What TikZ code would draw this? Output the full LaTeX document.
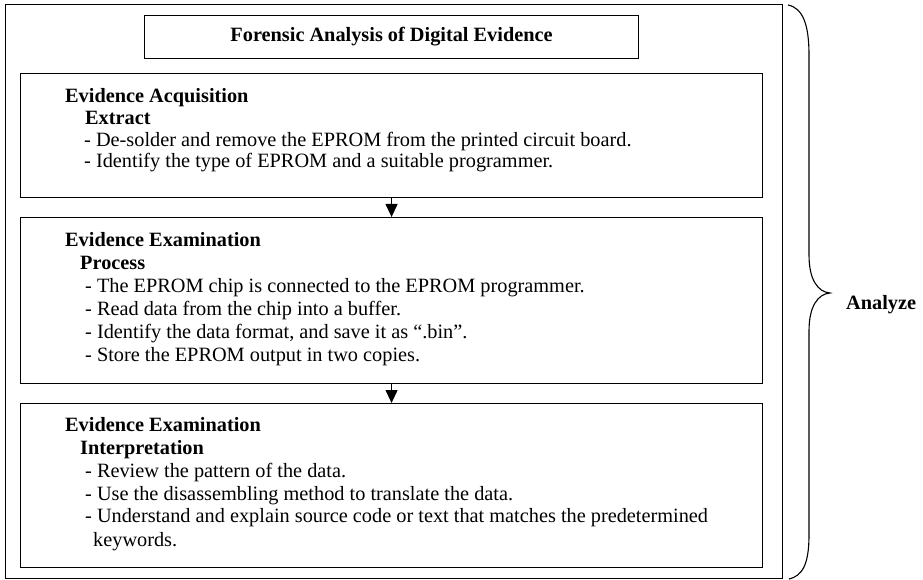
\documentclass[tikz,border=0pt]{standalone}
\usepackage{fontspec}
\setmainfont{Liberation Serif}
\usetikzlibrary{arrows.meta}
\begin{document}
\begin{tikzpicture}[x=1pt,y=-1pt,
  box/.style={draw,line width=1.1pt,rectangle,inner sep=0pt,anchor=north west},
  txt/.style={anchor=base west,inner sep=0pt,font=\fontsize{20.3}{22}\selectfont},
  hd/.style={txt,font=\fontsize{20.3}{22}\selectfont\bfseries},
  flow/.style={line width=1.1pt,-{Triangle[width=12pt,length=13pt]}}]
\useasboundingbox (0,0) rectangle (923,580);
\node[box,minimum width=777pt,minimum height=574pt] (outer) at (5,4) {};
\node[box,minimum width=494pt,minimum height=43pt] (title) at (144,15) {};
\node[hd,anchor=center] (titletext) at (title.center) {Forensic Analysis of Digital Evidence};
\node[box,minimum width=742pt,minimum height=124pt] (b1) at (20,73) {};
\node[box,minimum width=742pt,minimum height=166pt] (b2) at (20,217) {};
\node[box,minimum width=742pt,minimum height=164pt] (b3) at (20,403) {};
\draw[flow] (b1.south) -- (b2.north);
\draw[flow] (b2.south) -- (b3.north);
% box 1
\node[hd] (a1) at (65,102.3) {Evidence Acquisition};
\node[hd] (a2) at (85,125) {Extract};
\node[txt] (a3) at (84,146.7) {- De-solder and remove the EPROM from the printed circuit board.};
\node[txt] (a4) at (84,168) {- Identify the type of EPROM and a suitable programmer.};
% box 2
\node[hd] (p1) at (65,246.7) {Evidence Examination};
\node[hd] (p2) at (80,269) {Process};
\node[txt] (p3) at (85,292.7) {- The EPROM chip is connected to the EPROM programmer.};
\node[txt] (p4) at (85,315) {- Read data from the chip into a buffer.};
\node[txt] (p5) at (85,338) {- Identify the data format, and save it as ``.bin''.};
\node[txt] (p6) at (85,361) {- Store the EPROM output in two copies.};
% box 3
\node[hd] (i1) at (65,431.7) {Evidence Examination};
\node[hd] (i2) at (80,454) {Interpretation};
\node[txt] (i3) at (85,477.7) {- Review the pattern of the data.};
\node[txt] (i4) at (85,500) {- Use the disassembling method to translate the data.};
\node[txt] (i5) at (85,522.7) {- Understand and explain source code or text that matches the predetermined};
\node[txt] (i6) at (93,546.7) {keywords.};
% brace
\draw[line width=1.1pt]
  (788,5) .. controls (803,8) and (809,25) .. (809,55) -- (809,255)
  .. controls (809,280) and (818,292) .. (830,293)
  .. controls (818,294) and (809,306) .. (809,331) -- (809,535)
  .. controls (809,565) and (802,576) .. (789,579);
\node[hd] (an) at (846,309) {Analyze};
\end{tikzpicture}
\end{document}
